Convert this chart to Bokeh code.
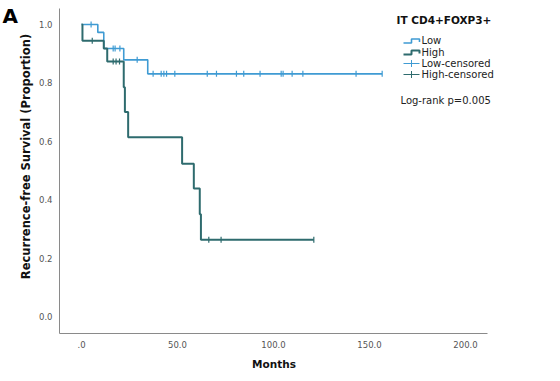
import numpy as np
from bokeh.plotting import figure
from bokeh.models import Range1d, FixedTicker, PrintfTickFormatter, Label, LinearAxis
from bokeh.embed import file_html
from bokeh.resources import INLINE

# ---------------- data ----------------
low_times = [0.0, 8.5, 11.6, 22.0, 34.5, 156.6]
low_surv = [1.0, 0.973, 0.918, 0.879, 0.831, 0.831]
high_times = [0.0, 0.5, 11.6, 13.4, 22.0, 22.6, 24.3, 52.4, 58.5, 61.6, 62.2, 121.0]
high_surv = [1.0, 0.944, 0.918, 0.873, 0.785, 0.700, 0.614, 0.523, 0.438, 0.350, 0.263, 0.263]
low_censored = [5.0, 16.5, 17.5, 20.0, 29.0, 37.3, 41.5, 42.9, 44.3, 48.6, 65.5, 70.3,
                80.7, 84.5, 93.0, 104.0, 105.0, 109.7, 115.3, 143.0, 156.6]
high_censored = [5.6, 16.5, 18.0, 19.8, 66.3, 72.7, 121.0]
x_ticks = [0, 50, 100, 150, 200]
x_tick_labels = [".0", "50.0", "100.0", "150.0", "200.0"]
y_ticks = [0.0, 0.2, 0.4, 0.6, 0.8, 1.0]
y_tick_labels = ["0.0", "0.2", "0.4", "0.6", "0.8", "1.0"]
group_names = ["Low", "High", "Low-censored", "High-censored"]
legend_title = "IT CD4+FOXP3+"
pvalue_text = "Log-rank p=0.005"

LOW_C = "#3f9bd3"
HIGH_C = "#2e6b6e"
FONT = "DejaVu Sans"
W, H = 560, 381

# canvas-pixel -> data helpers (layout only)
def dx(px):
    return (px - 81.0) / 1.92

def dy(py):
    return (316.0 - py) / 292.0

def surv_at(times, surv, t):
    idx = np.searchsorted(np.asarray(times), np.asarray(t), side="right") - 1
    return list(np.asarray(surv)[idx])

p = figure(width=W, height=H, output_backend="svg", toolbar_location=None,
           x_range=Range1d(dx(0), dx(W)), y_range=Range1d(dy(H), dy(0)),
           x_axis_type=None, y_axis_type=None,
           min_border_left=0, min_border_right=0, min_border_top=0, min_border_bottom=0)
p.outline_line_color = None
p.background_fill_color = "white"

xax = LinearAxis(fixed_location=dy(333), ticker=FixedTicker(ticks=x_ticks),
                 bounds=(dx(59), dx(487)))
yax = LinearAxis(fixed_location=dx(59), ticker=FixedTicker(ticks=y_ticks),
                 bounds=(dy(333), dy(8)), formatter=PrintfTickFormatter(format="%.1f"))
xax.major_label_overrides = {t: l for t, l in zip(x_ticks, x_tick_labels)}
yax.major_label_overrides = {t: l for t, l in zip(y_ticks, y_tick_labels)}
for ax in (xax, yax):
    ax.axis_line_color = "#8a8a8a"
    ax.axis_line_width = 1
    ax.major_tick_line_color = None
    ax.minor_tick_line_color = None
    ax.major_tick_out = 0
    ax.major_tick_in = 0
    ax.major_label_standoff = 7
    ax.major_label_text_font = FONT
    ax.major_label_text_font_size = "8.5px"
    ax.major_label_text_color = "#555555"
p.add_layout(xax, "below")
p.add_layout(yax, "left")

# ---------------- curves ----------------
p.step(low_times, low_surv, mode="after", line_color=LOW_C, line_width=1.6)
p.step(high_times, high_surv, mode="after", line_color=HIGH_C, line_width=2)
p.scatter(low_censored, surv_at(low_times, low_surv, low_censored), marker="dash",
          angle=np.pi / 2, size=6, line_color=LOW_C, line_width=1.2)
p.scatter(high_censored, surv_at(high_times, high_surv, high_censored), marker="dash",
          angle=np.pi / 2, size=6, line_color=HIGH_C, line_width=1.2)

# ---------------- legend (drawn by hand) ----------------
row_y = [40, 51.5, 63, 74]
cols = [LOW_C, HIGH_C, LOW_C, HIGH_C]
for i, (name, ry, c) in enumerate(zip(group_names, row_y, cols)):
    if i < 2:
        p.line([dx(403), dx(411), dx(411), dx(419), dx(419)],
               [dy(ry + 2.5), dy(ry + 2.5), dy(ry - 1.5), dy(ry - 1.5), dy(ry + 1.5)],
               line_color=c, line_width=1.6 if i == 0 else 2)
    else:
        p.line([dx(403), dx(419)], [dy(ry), dy(ry)], line_color=c, line_width=1)
        p.line([dx(411), dx(411)], [dy(ry - 3.5), dy(ry + 3.5)], line_color=c, line_width=1)
    p.add_layout(Label(x=dx(421), y=dy(ry), text=name, text_baseline="middle",
                       text_align="left", text_font=FONT, text_font_size="10px",
                       text_color="#222222"))

p.add_layout(Label(x=dx(396), y=dy(19), text=legend_title, text_baseline="middle",
                   text_align="left", text_font=FONT, text_font_size="10.5px",
                   text_font_style="bold", text_color="#111111"))
p.add_layout(Label(x=dx(400), y=dy(100), text=pvalue_text, text_baseline="middle",
                   text_align="left", text_font=FONT, text_font_size="10px",
                   text_color="#222222"))

# ---------------- axis titles & panel letter ----------------
p.add_layout(Label(x=dx(25), y=dy(156), text="Recurrence-free Survival (Proportion)",
                   angle=np.pi / 2, text_align="center", text_baseline="middle",
                   text_font=FONT, text_font_size="11.5px", text_font_style="bold",
                   text_color="#111111"))
p.add_layout(Label(x=dx(273.5), y=dy(363), text="Months", text_align="center",
                   text_baseline="middle", text_font=FONT, text_font_size="10.5px",
                   text_font_style="bold", text_color="#111111"))
p.add_layout(Label(x=dx(2), y=dy(3), text="A", text_align="left", text_baseline="top",
                   text_font=FONT, text_font_size="20px", text_font_style="bold",
                   text_color="#000000"))

open("out.html", "w").write(file_html(p, INLINE))
